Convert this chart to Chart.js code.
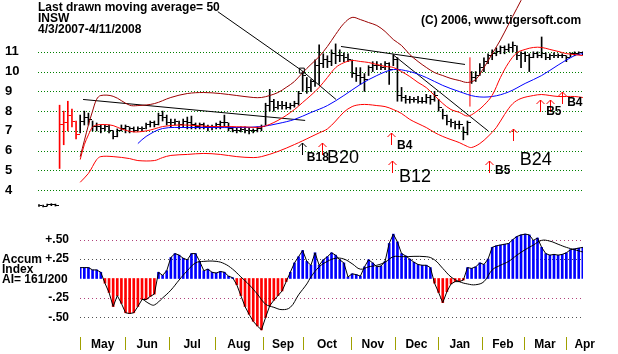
<!DOCTYPE html>
<html>
<head>
<meta charset="utf-8">
<title>INSW · Accum Index</title>
<script src="https://cdn.jsdelivr.net/npm/chart.js@4.4.0/dist/chart.umd.min.js"></script>
<style>
  html, body { margin: 0; padding: 0; background: #fff; }
  #wrap { position: relative; width: 618px; height: 354px; overflow: hidden; background: #fff; }
  #wrap canvas { position: absolute; left: 0; }
  #priceChart { top: 0; }
  #accumChart { top: 215px; }
  .lbl { position: absolute; font: bold 12px 'Liberation Sans', Arial, sans-serif; line-height: 13px; color: #000; white-space: nowrap; }
</style>
</head>
<body>
<div id="wrap">
  <canvas id="priceChart" width="618" height="218"></canvas>
  <canvas id="accumChart" width="618" height="139"></canvas>
  <div class="lbl" style="left:38px;top:1px">Last drawn moving average= 50</div>
  <div class="lbl" style="left:38px;top:12px">INSW</div>
  <div class="lbl" style="left:38px;top:23px">4/3/2007-4/11/2008</div>
  <div class="lbl" style="left:421px;top:14px">(C) 2006, www.tigersoft.com</div>
  <div class="lbl" style="left:2px;top:254px;line-height:10px">Accum<br>Index<br>AI= 161/200</div>
</div>

<script>
// ══════════════════════════════════════════════════════════════
//  INSW  4/3/2007 - 4/11/2008 · price bands + Accumulation Index
//  one bar = two trading sessions, x = bar number
// ══════════════════════════════════════════════════════════════

// ─── Price bars ───────────────────────────────────────────────
const priceHigh = [
  3.28, 3.25, 3.3, 3.32, 3.3,   8.3, 8.0, 8.5, 8.1, 7.5,
  7.8, 8.0, 7.9, 7.5, 7.4,      7.3, 7.3, 7.3, 7.0, 7.1,
  7.3, 7.3, 7.2, 7.2, 7.2,      7.2, 7.4, 7.5, 7.5, 7.9,
  8.0, 7.8, 7.6, 7.6, 7.5,      7.6, 7.7, 7.75, 7.4, 7.4,
  7.4, 7.3, 7.3, 7.4, 7.5,      7.8, 7.4, 7.2, 7.15, 7.2,
  7.2, 7.15, 7.1, 7.2, 7.3,     8.4, 9.1, 8.6, 8.5, 8.5,
  8.45, 8.4, 8.5, 9.0, 10.0,    9.7, 9.6, 10.6, 11.35, 10.9,
  10.8, 11.1, 11.4, 11.1, 10.95, 10.9, 10.6, 10.2, 10.2, 9.9,
  10.3, 10.5, 10.5, 10.4, 10.5, 10.45, 10.85, 10.7, 9.2, 8.8,
  8.75, 8.7, 8.75, 8.7, 8.85,   8.8, 9.0, 8.6, 8.1, 7.8,
  7.6, 7.5, 7.5, 7.2, 7.5,      10.0, 10.0, 10.4, 10.7, 10.9,
  11.1, 11.2, 11.3, 11.3, 11.4, 11.5, 11.3, 11.0, 11.0, 10.9,
  11.0, 11.0, 11.75, 10.95, 10.9, 10.95, 10.9, 10.9, 10.8, 10.95,
  11.0, 11.0, 11.0
];
const priceLow = [
  3.18, 3.15, 3.2, 3.22, 3.2,   5.1, 6.3, 7.0, 7.2, 6.6,
  6.9, 7.3, 7.3, 7.0, 7.0,      6.9, 7.0, 6.9, 6.6, 6.7,
  7.0, 6.9, 6.9, 6.95, 7.0,     7.0, 7.1, 7.2, 7.2, 7.3,
  7.5, 7.3, 7.2, 7.3, 7.1,      7.2, 7.1, 7.1, 7.1, 7.1,
  7.1, 7.0, 7.05, 7.1, 7.1,     7.2, 7.0, 6.95, 6.9, 6.95,
  6.9, 6.85, 6.9, 6.95, 7.0,    7.3, 8.0, 8.0, 8.1, 8.1,
  8.1, 8.1, 8.2, 8.3, 9.0,      8.9, 9.0, 9.25, 9.35, 10.2,
  10.2, 10.3, 10.4, 10.5, 10.5, 10.5, 9.7, 9.5, 9.35, 9.0,
  9.8, 10.0, 10.1, 10.1, 10.1,  9.35, 10.3, 8.5, 8.5, 8.4,
  8.4, 8.45, 8.4, 8.4, 8.4,     8.35, 8.5, 8.0, 7.6, 7.3,
  7.2, 7.1, 7.1, 6.55, 6.8,     9.4, 9.5, 9.8, 10.0, 10.4,
  10.6, 10.8, 10.9, 10.9, 11.0, 11.0, 10.6, 10.2, 10.5, 10.0,
  10.7, 10.7, 10.7, 10.6, 10.6, 10.7, 10.7, 10.7, 10.5, 10.75,
  10.8, 10.85, 10.85
];
const priceClose = [
  3.22, 3.2, 3.26, 3.28, 3.25,  7.3, 7.4, 7.8, 7.5, 6.8,
  7.5, 7.7, 7.6, 7.2, 7.2,      7.1, 7.2, 7.0, 6.7, 7.0,
  7.1, 7.2, 7.1, 7.0, 7.1,      7.1, 7.3, 7.4, 7.3, 7.8,
  7.7, 7.4, 7.4, 7.5, 7.3,      7.5, 7.4, 7.3, 7.2, 7.3,
  7.2, 7.2, 7.2, 7.3, 7.4,      7.4, 7.1, 7.0, 7.0, 7.05,
  7.0, 7.0, 7.0, 7.1, 7.2,      8.3, 8.5, 8.2, 8.3, 8.3,
  8.2, 8.3, 8.4, 8.9, 9.8,      9.2, 9.5, 10.3, 10.4, 10.6,
  10.5, 10.9, 10.8, 10.8, 10.7, 10.6, 9.9, 9.8, 9.7, 9.6,
  10.2, 10.3, 10.3, 10.2, 10.4, 10.1, 10.6, 8.8, 8.7, 8.6,
  8.6, 8.6, 8.5, 8.5, 8.7,      8.6, 8.8, 8.2, 7.8, 7.5,
  7.4, 7.3, 7.3, 6.9, 7.4,      9.7, 9.8, 10.2, 10.5, 10.8,
  10.9, 11.0, 11.2, 11.1, 11.2, 11.3, 10.8, 10.9, 10.8, 10.7,
  10.9, 10.8, 10.9, 10.7, 10.8, 10.8, 10.8, 10.8, 10.7, 10.9,
  10.9, 10.95, 10.9
];
// bars printed in red before the bands start
const redBars = [5, 6, 7, 8, 9];
const priceTicks = [4, 5, 6, 7, 8, 9, 10, 11];

// ─── Bands and averages  [bar, value] ─────────────────────────
const upperBand = [
  [10, 5.7], [11, 6.5], [12, 7.3], [13, 8.0], [14, 8.6], [15, 8.79], [18, 8.75], [22, 8.3],
  [24, 8.28], [28, 8.38], [32, 8.69], [36, 8.89], [40, 8.94], [44, 8.89], [48, 8.79], [52, 8.69],
  [54, 8.69], [56, 8.79], [58, 8.94], [60, 9.2], [62, 9.5], [64, 9.95], [66, 10.36], [68, 10.76],
  [70, 11.27], [72, 11.88], [74, 12.43], [76, 12.74], [78, 12.63], [80, 12.48], [82, 12.33],
  [84, 12.03], [86, 11.62], [88, 11.32], [90, 10.86], [92, 10.51], [94, 10.21], [96, 9.95],
  [98, 9.8], [100, 9.65], [102, 9.55], [104, 9.45], [106, 9.6], [108, 10.2], [110, 10.9],
  [112, 11.6], [114, 12.4], [116, 13.2], [118, 14.0]
];
const middleMA = [
  [10, 5.55], [11, 6.3], [12, 6.8], [13, 7.2], [14, 7.3], [16, 7.32], [18, 7.27], [20, 7.1],
  [23, 6.95], [26, 7.0], [28, 7.1], [30, 7.22], [34, 7.3], [38, 7.27], [42, 7.22], [46, 7.22],
  [50, 7.2], [54, 7.2], [58, 7.53], [62, 8.08], [64, 8.44], [66, 8.8], [68, 9.2], [70, 9.7],
  [72, 10.2], [74, 10.45], [76, 10.56], [78, 10.51], [80, 10.46], [82, 10.36], [84, 10.26],
  [86, 10.21], [88, 10.0], [90, 9.75], [92, 9.45], [94, 9.19], [96, 8.79], [98, 8.39],
  [100, 8.08], [102, 7.94], [104, 7.75], [106, 7.95], [108, 8.3], [110, 8.8], [112, 9.7],
  [114, 10.45], [116, 10.95], [118, 11.12], [120, 11.22], [122, 11.22], [124, 11.12],
  [126, 11.02], [128, 10.91], [130, 10.86], [132, 10.81]
];
const lowerBand = [
  [10, 4.4], [12, 4.85], [13, 5.2], [14, 5.55], [15, 5.7], [18, 5.7], [22, 5.6], [24, 5.5],
  [28, 5.5], [30, 5.65], [32, 5.76], [36, 5.81], [40, 5.86], [44, 5.81], [48, 5.7], [52, 5.65],
  [54, 5.7], [58, 5.96], [62, 6.31], [64, 6.5], [66, 6.7], [68, 6.9], [70, 7.1], [72, 7.5],
  [74, 7.95], [76, 8.23], [78, 8.33], [80, 8.33], [82, 8.28], [84, 8.23], [86, 8.08], [88, 7.88],
  [90, 7.58], [92, 7.37], [94, 7.17], [96, 6.92], [98, 6.72], [100, 6.56], [102, 6.41],
  [104, 6.21], [105, 6.16], [107, 6.36], [109, 6.72], [111, 7.17], [113, 7.83], [115, 8.38],
  [117, 8.64], [120, 8.79], [122, 8.84], [124, 8.79], [126, 8.74], [128, 8.74], [130, 8.74],
  [132, 8.69]
];
const ma50 = [
  [24, 6.36], [26, 6.72], [30, 7.12], [36, 7.17], [42, 7.17], [48, 7.17], [54, 7.22], [58, 7.37],
  [62, 7.58], [66, 7.93], [70, 8.28], [74, 8.79], [78, 9.35], [82, 9.8], [86, 10.1], [90, 10.0],
  [94, 9.7], [98, 9.3], [102, 8.99], [106, 8.74], [110, 8.74], [114, 8.97], [118, 9.4],
  [122, 9.8], [126, 10.33], [130, 10.81], [132, 10.91]
];

// ─── Hand drawn lines ─────────────────────────────────────────
const trendLines = [
  [[10.7, 8.59], [64.6, 7.53]],
  [[73.3, 11.27], [103.4, 10.36]],
  [[85.9, 10.86], [109, 7.0]],
  [[63.8, 10.05], [72.1, 8.59]],
  [[43.4, 13.03], [63.8, 10.05]]   // pointer from the title
];
const pointerEnd = [63.8, 10.05];
const markerLine = [[104.6, 8.23], [104.6, 10.72]];

// ─── Buy signals ──────────────────────────────────────────────
const arrowBar   = [63.8, 68.7, 85.4, 85.7, 109.2, 115.0, 121.6, 124.0, 126.9];
const arrowPrice = [6.41, 6.41, 6.87, 5.5, 5.5, 7.12, 8.54, 8.54, 8.99];
const arrowColor = ['#000000', '#ff0000', '#ff0000', '#ff0000', '#ff0000', '#ff0000', '#ff0000', '#ff0000', '#ff0000'];
const sigText  = ['B18', 'B20', 'B4', 'B12', 'B5', 'B24', 'B5', 'B4'];
const sigBar   = [65.0, 69.9, 86.9, 87.4, 110.7, 116.7, 123.1, 128.2];
const sigPrice = [5.65, 5.65, 6.26, 4.69, 5.0, 5.55, 7.98, 8.44];
const sigMajor = [false, true, false, true, false, true, false, false];

// ─── Accumulation Index (starts at bar 10) ────────────────────
const AI_FIRST_BAR = 10;
const aiValues = [
  0.14, 0.14, 0.14, 0.11, 0.11,    0.08, -0.06, -0.18, -0.36, -0.22,
  -0.32, -0.44, -0.45, -0.44, -0.36, -0.27, -0.27, -0.23, -0.2, 0.08,
  0.04, 0.1, 0.27, 0.32, 0.3,      0.26, 0.24, 0.32, 0.32, 0.22,
  0.1, 0.12, 0.08, 0.07, 0.09,     0.08, 0.03, 0.01, -0.08, -0.22,
  -0.36, -0.46, -0.55, -0.61, -0.66, -0.5, -0.35, -0.28, -0.22, -0.16,
  -0.04, 0.08, 0.2, 0.28, 0.36,    0.22, 0.17, 0.33, 0.17, 0.24,
  0.28, 0.33, 0.3, 0.24, 0.2,      0.02, 0.06, 0.05, 0.03, 0.15,
  0.24, 0.2, 0.15, 0.16, 0.22,     0.45, 0.57, 0.47, 0.32, 0.29,
  0.25, 0.21, 0.18, 0.17, 0.17,    0.14, -0.06, -0.18, -0.31, -0.17,
  -0.07, -0.04, -0.04, -0.02, 0.14, 0.13, 0.15, 0.2, 0.18, 0.25,
  0.4, 0.42, 0.43, 0.44, 0.45,     0.5, 0.54, 0.56, 0.57, 0.56,
  0.49, 0.52, 0.4, 0.32, 0.3,      0.31, 0.3, 0.31, 0.33, 0.37,
  0.38, 0.39, 0.4
];
const aiAverage = [
  [25, -0.26], [27, -0.33], [28, -0.34], [30, -0.25], [32, -0.15], [34, -0.02], [36, 0.1],
  [38, 0.2], [40, 0.22], [43, 0.22], [45, 0.19], [47, 0.12], [49, 0.02], [51, -0.08], [53, -0.2],
  [55, -0.33], [57, -0.37], [59, -0.4], [61, -0.37], [63, -0.21], [65, -0.07], [66, 0.02],
  [68, 0.15], [70, 0.22], [72, 0.26], [74, 0.25], [76, 0.19], [78, 0.12], [80, 0.15], [82, 0.17],
  [84, 0.21], [86, 0.28], [88, 0.28], [94, 0.28], [96, 0.24], [98, 0.13], [100, 0.02],
  [102, -0.04], [104, -0.07], [106, -0.08], [108, -0.04], [110, 0.11], [112, 0.17], [114, 0.22],
  [116, 0.3], [118, 0.37], [120, 0.43], [122, 0.49], [124, 0.48], [126, 0.44], [128, 0.4],
  [130, 0.37], [132, 0.34]
];
const aiTicks = [-0.5, -0.25, 0, 0.25, 0.5];

// ─── Months (bar where each month begins) ─────────────────────
const monthNames = ['May', 'Jun', 'Jul', 'Aug', 'Sep', 'Oct', 'Nov', 'Dec', 'Jan', 'Feb', 'Mar', 'Apr'];
const monthStart = [10.0, 20.9, 31.6, 42.7, 54.4, 64.1, 75.7, 86.4, 96.8, 107.5, 117.7, 127.9];

// ─── Colours ──────────────────────────────────────────────────
const PALETTE = {
  red:    '#ff0000',
  maroon: '#9a0000',
  blue:   '#0000ff',
  black:  '#000000',
  green:  '#008000',
  olive:  '#a0a000',
  pink:   '#b0407a',
  grey:   '#505050',
};

Chart.defaults.font.family = "'Liberation Sans', Arial, sans-serif";
Chart.defaults.font.size   = 12;
Chart.defaults.font.weight = 'bold';
Chart.defaults.color       = '#000';

// ─── Helpers ──────────────────────────────────────────────────
const pts = line => line.map(([x, y]) => ({ x, y }));

// close tick, drawn to the right of the bar
function closeTick(color) {
  const c = document.createElement('canvas');
  c.width = 7; c.height = 1;
  const g = c.getContext('2d');
  g.fillStyle = color;
  g.fillRect(4, 0, 3, 1);
  return c;
}
const TICK_BLACK = closeTick(PALETTE.black);
const TICK_RED   = closeTick(PALETTE.red);

function lineDs(data, color, extra = {}) {
  return {
    type: 'line', data: pts(data), borderColor: color, borderWidth: 1,
    pointRadius: 0, tension: 0.35, fill: false, order: 1, ...extra
  };
}

// ─── Plugins ──────────────────────────────────────────────────
// dotted horizontal grid at the y scale ticks
function dottedGrid(dash, colorFor) {
  return {
    id: 'dottedGrid',
    beforeDatasetsDraw(chart) {
      const { ctx, chartArea, scales: { y } } = chart;
      ctx.save();
      ctx.lineWidth = 1;
      ctx.setLineDash(dash);
      y.ticks.forEach(t => {
        const color = colorFor(t.value);
        if (!color) return;
        const py = Math.round(y.getPixelForValue(t.value)) + 0.5;
        ctx.strokeStyle = color;
        ctx.beginPath();
        ctx.moveTo(chartArea.left, py);
        ctx.lineTo(chartArea.right, py);
        ctx.stroke();
      });
      ctx.restore();
    }
  };
}

const signalPlugin = {
  id: 'signals',
  afterDatasetsDraw(chart) {
    const { ctx, scales: { x, y } } = chart;
    ctx.save();
    ctx.lineWidth = 1;
    arrowBar.forEach((b, k) => {
      const px = Math.round(x.getPixelForValue(b)) + 0.5;
      const py = Math.round(y.getPixelForValue(arrowPrice[k]));
      ctx.strokeStyle = arrowColor[k];
      ctx.beginPath();
      ctx.moveTo(px, py + 12); ctx.lineTo(px, py);
      ctx.moveTo(px - 4, py + 4); ctx.lineTo(px, py); ctx.lineTo(px + 4, py + 4);
      ctx.stroke();
    });
    ctx.fillStyle = '#000';
    ctx.textAlign = 'left';
    ctx.textBaseline = 'middle';
    sigText.forEach((t, k) => {
      ctx.font = sigMajor[k]
        ? "normal 18px 'Liberation Sans', Arial, sans-serif"
        : "bold 12px 'Liberation Sans', Arial, sans-serif";
      ctx.fillText(t, x.getPixelForValue(sigBar[k]), y.getPixelForValue(sigPrice[k]));
    });
    ctx.restore();
  }
};

const monthPlugin = {
  id: 'months',
  afterDraw(chart) {
    const { ctx, chartArea, scales: { x } } = chart;
    const span = (monthStart[monthStart.length - 1] - monthStart[0]) / (monthStart.length - 1);
    ctx.save();
    ctx.strokeStyle = PALETTE.olive;
    ctx.lineWidth = 1;
    ctx.fillStyle = '#000';
    ctx.font = "bold 12px 'Liberation Sans', Arial, sans-serif";
    ctx.textAlign = 'center';
    ctx.textBaseline = 'middle';
    monthStart.forEach((m, k) => {
      const px = Math.round(x.getPixelForValue(m)) + 0.5;
      ctx.beginPath();
      ctx.moveTo(px, chartArea.bottom + 4);
      ctx.lineTo(px, chartArea.bottom + 17);
      ctx.stroke();
      const next = k + 1 < monthStart.length ? monthStart[k + 1] : m + span * 0.85;
      ctx.fillText(monthNames[k], x.getPixelForValue((m + next) / 2), chartArea.bottom + 12);
    });
    ctx.restore();
  }
};

// ─── Chart 1 – price, bands and signals ───────────────────────
const barColor = priceHigh.map((_, i) => redBars.includes(i) ? PALETTE.red : PALETTE.black);

new Chart(document.getElementById('priceChart'), {
  type: 'bar',
  data: {
    datasets: [
      {
        data: priceHigh.map((h, i) => ({ x: i, y: [priceLow[i], h] })),
        backgroundColor: barColor, barThickness: 1, grouped: false, order: 4
      },
      {
        type: 'line', data: priceClose.map((c, i) => ({ x: i, y: c })), showLine: false,
        pointStyle: barColor.map(c => c === PALETTE.red ? TICK_RED : TICK_BLACK),
        pointRadius: 3, order: 3
      },
      lineDs(upperBand, PALETTE.maroon),
      lineDs(middleMA, PALETTE.red),
      lineDs(lowerBand, PALETTE.red),
      lineDs(ma50, PALETTE.blue),
      ...trendLines.map(t => lineDs(t, PALETTE.black, { tension: 0 })),
      lineDs(markerLine, PALETTE.red, { tension: 0 }),
      {
        type: 'line', data: pts([pointerEnd]), showLine: false, pointStyle: 'rect',
        pointRadius: 3.5, borderColor: PALETTE.black, borderWidth: 1,
        backgroundColor: 'transparent', order: 0
      },
    ]
  },
  options: {
    responsive: false,
    animation: false,
    events: [],
    layout: { padding: { left: 5, right: 35, top: 0, bottom: 8 }, autoPadding: false },
    plugins: { legend: { display: false }, tooltip: { enabled: false } },
    scales: {
      x: { type: 'linear', min: -0.24, max: 132.04, offset: false, display: false },
      y: {
        min: 3, max: 13.62,
        afterBuildTicks: s => { s.ticks = priceTicks.map(value => ({ value })); },
        afterFit: s => { s.width = 33; s.paddingTop = 0; s.paddingBottom = 0; },
        grid: { display: false },
        border: { display: false },
        ticks: { font: { size: 13, weight: 'bold' }, color: '#000', crossAlign: 'far', padding: 0 }
      }
    }
  },
  plugins: [dottedGrid([1, 2], () => PALETTE.green), signalPlugin]
});

// ─── Chart 2 – Accumulation Index ─────────────────────────────
const aiLabel = v => v === 0 ? '' : (v > 0 ? '+' : '-') + Math.abs(v).toFixed(2).slice(1);
const aiGridColor = v => v === 0 ? null : ((v === 0.5 || v === -0.25) ? PALETTE.pink : PALETTE.grey);

new Chart(document.getElementById('accumChart'), {
  type: 'bar',
  data: {
    datasets: [
      {
        data: aiValues.map((v, k) => ({ x: AI_FIRST_BAR + k, y: v })),
        backgroundColor: aiValues.map(v => v >= 0 ? PALETTE.blue : PALETTE.red),
        barThickness: 2, grouped: false, order: 3
      },
      {
        type: 'line', data: aiValues.map((v, k) => ({ x: AI_FIRST_BAR + k, y: v })),
        borderColor: PALETTE.black, borderWidth: 1, pointRadius: 0, tension: 0, order: 2
      },
      lineDs(aiAverage, PALETTE.black, { tension: 0.4 }),
    ]
  },
  options: {
    responsive: false,
    animation: false,
    events: [],
    layout: { padding: { left: 0, right: 35, top: 9, bottom: 21 }, autoPadding: false },
    plugins: { legend: { display: false }, tooltip: { enabled: false } },
    scales: {
      x: { type: 'linear', min: 9.95, max: 132.04, offset: false, display: false },
      y: {
        min: -0.7, max: 0.7,
        afterBuildTicks: s => { s.ticks = aiTicks.map(value => ({ value })); },
        afterFit: s => { s.width = 80; s.paddingTop = 0; s.paddingBottom = 0; },
        grid: { display: false },
        border: { display: false },
        ticks: { callback: aiLabel, padding: 3, crossAlign: 'near', color: '#000' }
      }
    }
  },
  plugins: [dottedGrid([1, 3], aiGridColor), monthPlugin]
});
</script>
</body>
</html>
